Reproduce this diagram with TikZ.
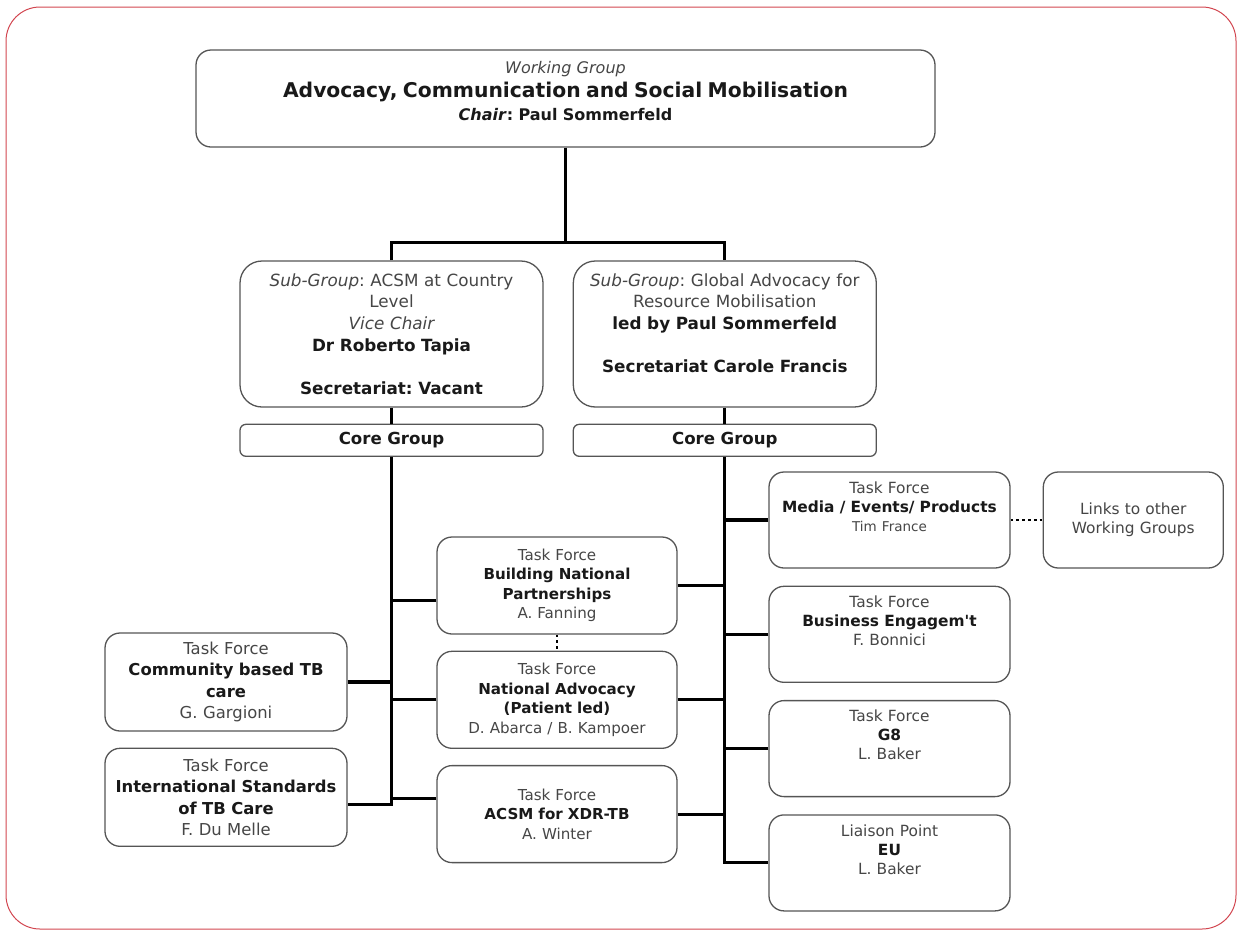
\documentclass[tikz,border=0pt]{standalone}
\usepackage{fontspec}
\setmainfont{DejaVu Sans}[Ligatures=TeXOff]
\usetikzlibrary{positioning}
\definecolor{framered}{RGB}{210,70,80}
\definecolor{boxline}{RGB}{85,85,85}
\definecolor{lighttext}{RGB}{70,70,70}
\frenchspacing
\tikzset{
    box/.style={draw=boxline, line width=1.3pt, rounded corners=15pt, fill=white, align=center, inner sep=0pt, text=black!90}, % every framed box
    topbox/.style={box, minimum width=739pt, minimum height=97pt, text width=720pt, font=\fontsize{16}{23.5}\selectfont},
    subbox/.style={box, rounded corners=22pt, minimum width=303pt, minimum height=146pt, text width=296pt, font=\fontsize{16.8}{21.6}\selectfont},
    corebox/.style={box, rounded corners=6pt, minimum width=303pt, minimum height=32pt, text width=292pt, font=\bfseries\fontsize{16.6}{18}\selectfont},
    leftbox/.style={box, minimum width=242pt, minimum height=98pt, text width=240pt, font=\fontsize{16.4}{21.5}\selectfont},
    midbox/.style={box, minimum width=240pt, minimum height=97pt, text width=236pt, font=\fontsize{15.1}{19.5}\selectfont},
    rightbox/.style={box, minimum width=241pt, minimum height=96pt, text width=238pt, font=\fontsize{15.4}{19}\selectfont},
    conn/.style={line width=3.1pt},
    dots/.style={line width=2.8pt, dash pattern=on 2.8pt off 3pt}
}
\newcommand{\tflite}[1]{{\color{lighttext}#1}}

\begin{document}
\begin{tikzpicture}[x=1pt, y=-1pt]
    \useasboundingbox (0,0) rectangle (1239,930);
    \draw[framered, line width=1pt, rounded corners=34pt] (6,7) rectangle (1236,929);

    % working group and sub-groups
    \node[topbox] (wg) at (565.5,98.5) {\tflite{\itshape Working Group}\\
        {\bfseries\fontsize{20.3}{23.5}\selectfont Advocacy, Communication and Social Mobilisation}\\
        {\bfseries\textit{Chair}: Paul Sommerfeld}\\[-9pt]~};
    \node[subbox] (sgl) at (391.5,334) {\tflite{\itshape Sub-Group}\tflite{: ACSM at Country}\\ \tflite{Level}\\
        \tflite{\itshape Vice Chair}\\ \textbf{Dr Roberto Tapia}\\ ~\\ \textbf{Secretariat: Vacant}};
    \node[subbox] (sgr) [right=29pt of sgl] {\tflite{\itshape Sub-Group}\tflite{: Global Advocacy for}\\
        \tflite{Resource Mobilisation}\\ \textbf{led by Paul Sommerfeld}\\ ~\\ \textbf{Secretariat Carole Francis}\\ ~};
    \node[corebox] (corel) [below=16pt of sgl] {Core Group};
    \node[corebox] (corer) [below=16pt of sgr] {Core Group};

    % task forces, left side
    \node[leftbox] (community) at (226,682) {\tflite{Task Force}\\ \textbf{Community based TB}\\ \textbf{care}\\ \tflite{G. Gargioni}};
    \node[leftbox] (intl) [below=16pt of community] {\tflite{Task Force}\\ \textbf{International Standards}\\ \textbf{of TB Care}\\ \tflite{F. Du Melle}};

    % task forces, middle
    \node[midbox] (build) at (557,585.5) {\tflite{Task Force}\\ \textbf{Building National}\\ \textbf{Partnerships}\\ \tflite{A. Fanning}};
    \node[midbox] (natadv) [below=16pt of build] {\tflite{Task Force}\\ \textbf{National Advocacy}\\ \textbf{(Patient led)}\\ \tflite{D. Abarca / B. Kampoer}};
    \node[midbox] (xdr) [below=16pt of natadv] {\tflite{Task Force}\\ \textbf{ACSM for XDR-TB}\\ \tflite{A. Winter}};

    % task forces, right side
    \node[rightbox] (media) at (889.5,520) {\tflite{Task Force}\\ \textbf{Media / Events/ Products}\\ \tflite{\fontsize{13.5}{19}\selectfont Tim France}\\[8pt]~};
    \node[rightbox] (business) [below=17pt of media] {\tflite{Task Force}\\ \textbf{Business Engagem't}\\ \tflite{F. Bonnici}\\[8pt]~};
    \node[rightbox] (g8) [below=17pt of business] {\tflite{Task Force}\\ \textbf{G8}\\ \tflite{L. Baker}\\[8pt]~};
    \node[rightbox] (eu) [below=17pt of g8] {\tflite{Liaison Point}\\ \textbf{EU}\\ \tflite{L. Baker}\\[8pt]~};
    \node[rightbox, minimum width=180pt, text width=176pt] (links) [right=32pt of media] {\tflite{Links to other}\\ \tflite{Working Groups}};

    % connectors
    \draw[conn] (wg.south) -- ++(0,95) coordinate (split);
    \draw[conn] (sgl.north) |- (split) -| (sgr.north);
    \draw[conn] (sgl) -- (corel);
    \draw[conn] (sgr) -- (corer);
    \draw[conn] (corel.south) |- ([yshift=-7pt]intl.east);
    \draw[conn] (corer.south) |- (eu.west);
    \draw[conn] (community.east) -- (community.east -| corel.south);
    \draw[conn] ([yshift=-15pt]build.west) -- ([yshift=-15pt]build.west -| corel.south);
    \draw[conn] (natadv.west) -- (natadv.west -| corel.south);
    \draw[conn] ([yshift=16pt]xdr.west) -- ([yshift=16pt]xdr.west -| corel.south);
    \foreach \b in {build, natadv, xdr}
        \draw[conn] (\b.east) -- (\b.east -| corer.south);
    \foreach \b in {media, business, g8}
        \draw[conn] (\b.west) -- (\b.west -| corer.south);
    \draw[dots] (build) -- (natadv);
    \draw[dots] (media) -- (links);
\end{tikzpicture}
\end{document}
